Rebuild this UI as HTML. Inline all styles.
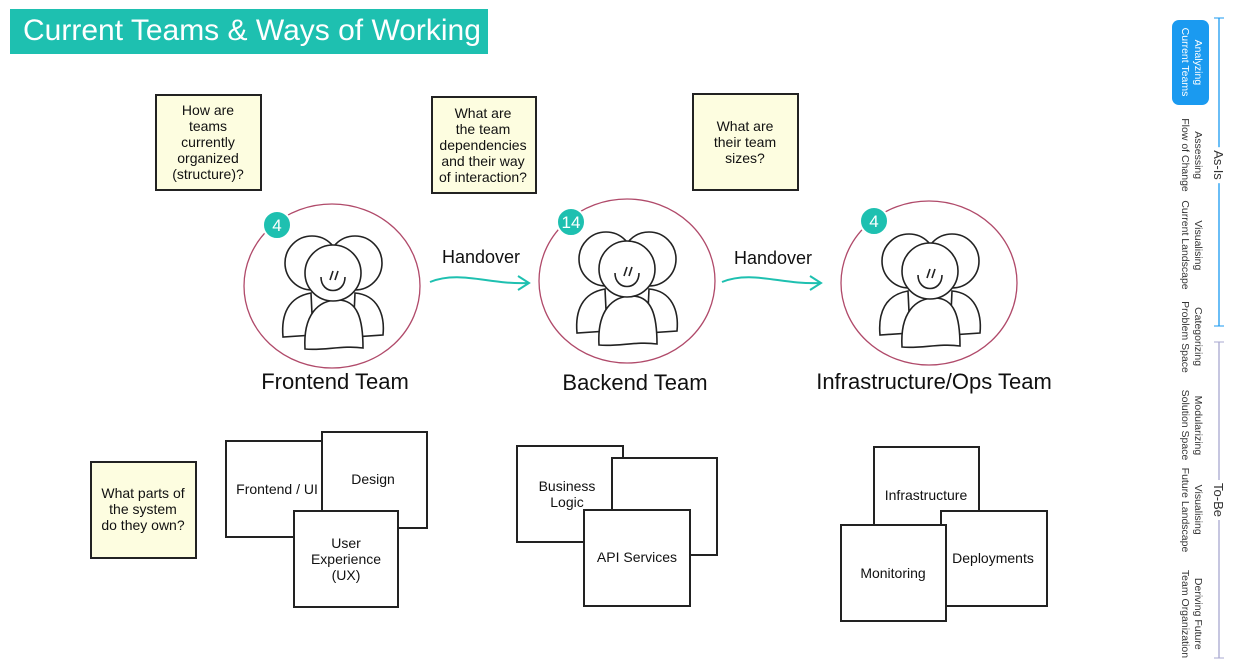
<!DOCTYPE html>
<html><head><meta charset="utf-8"><style>
body{margin:0;width:1235px;height:667px;background:#fff;overflow:hidden;position:relative;font-family:"Liberation Sans",sans-serif}
.t{position:absolute;left:10px;top:9px;width:478px;height:45px;background:#1ec0b0;color:#fff;font-size:30px;line-height:43px;padding-left:13px;box-sizing:border-box;font-family:"Liberation Sans",sans-serif;white-space:nowrap;overflow:hidden}
.v{position:absolute;writing-mode:vertical-rl;font-size:10.5px;line-height:13px;text-align:center;color:#333;transform:translateY(-50%);white-space:nowrap}
</style></head><body>
<div class="t">Current Teams &amp; Ways of Working</div>
<svg width="1235" height="667" style="position:absolute;left:0;top:0" font-family="Liberation Sans, sans-serif">
<defs>
<g id="ppl" fill="#fff" stroke="#222" stroke-width="1.6">
<path d="M-50,52 C-52,30 -45,12 -22,8 L-20,50 Z"/>
<path d="M50,50 C52,30 45,10 22,8 L20,52 Z"/>
<circle cx="-21" cy="-22" r="27"/>
<circle cx="22" cy="-22" r="27"/>
<path d="M-28,64 C-30,30 -15,15 5,15 C25,15 30,35 30,63 C10,60 -10,66 -28,64 Z"/>
<circle cx="0" cy="-12" r="28"/>
<path d="M-12,-8 C-12,10 12,10 12,-8" fill="none"/>
<path d="M-3,-5 L0,-14 M2,-5 L5,-14" fill="none"/>
</g>
</defs>
<g fill="#fdfde0" stroke="#222" stroke-width="2">
<rect x="156" y="95" width="105" height="95"/>
<rect x="432" y="97" width="104" height="96"/>
<rect x="693" y="94" width="105" height="96"/>
<rect x="91" y="462" width="105" height="96"/>
</g>
<g font-size="14" fill="#111" text-anchor="middle">
<text x="208" y="115">How are</text><text x="208" y="131">teams</text><text x="208" y="147">currently</text><text x="208" y="163">organized</text><text x="208" y="179">(structure)?</text>
<text x="483" y="118">What are</text><text x="483" y="134">the team</text><text x="483" y="150">dependencies</text><text x="483" y="166">and their way</text><text x="483" y="182">of interaction?</text>
<text x="745" y="131">What are</text><text x="745" y="147">their team</text><text x="745" y="163">sizes?</text>
<text x="143" y="498">What parts of</text><text x="143" y="514">the system</text><text x="143" y="530">do they own?</text>
</g>
<g fill="#fff" stroke="#222" stroke-width="2">
<rect x="226" y="441" width="106" height="96"/>
<rect x="322" y="432" width="105" height="96"/>
<rect x="294" y="511" width="104" height="96"/>
<rect x="517" y="446" width="106" height="96"/>
<rect x="612" y="458" width="105" height="97"/>
<rect x="584" y="510" width="106" height="96"/>
<rect x="874" y="447" width="105" height="97"/>
<rect x="941" y="511" width="106" height="95"/>
<rect x="841" y="525" width="105" height="96"/>
</g>
<g font-size="14" fill="#111" text-anchor="middle">
<text x="277" y="494">Frontend / UI</text>
<text x="373" y="484">Design</text>
<text x="346" y="548">User</text><text x="346" y="564">Experience</text><text x="346" y="580">(UX)</text>
<text x="567" y="491">Business</text><text x="567" y="507">Logic</text>
<text x="637" y="562">API Services</text>
<text x="926" y="500">Infrastructure</text>
<text x="993" y="563">Deployments</text>
<text x="893" y="578">Monitoring</text>
</g>
<g fill="none" stroke="#b04a6a" stroke-width="1.3">
<ellipse cx="332" cy="286" rx="88" ry="82"/>
<ellipse cx="627" cy="281" rx="88" ry="82"/>
<ellipse cx="929" cy="283" rx="88" ry="82"/>
</g>
<use href="#ppl" x="333" y="285"/>
<use href="#ppl" x="627" y="281"/>
<use href="#ppl" x="930" y="283"/>
<g fill="#1ec0b0" stroke="#fff" stroke-width="2"><circle cx="277" cy="225" r="14"/><circle cx="571" cy="222" r="14"/><circle cx="874" cy="221" r="14"/></g>
<g fill="#fff" font-size="17" text-anchor="middle"><text x="277" y="231">4</text><text x="571" y="228">14</text><text x="874" y="227">4</text></g>
<g font-size="22" fill="#111" text-anchor="middle">
<text x="335" y="389">Frontend Team</text><text x="635" y="390">Backend Team</text><text x="934" y="389">Infrastructure/Ops Team</text>
</g>
<g font-size="18" fill="#111" text-anchor="middle"><text x="481" y="263">Handover</text><text x="773" y="264">Handover</text></g>
<g fill="none" stroke="#1ec0b0" stroke-width="2">
<path d="M430,282 C460,270 490,285 528,283 M518,276 L529,283 L518,290"/>
<path d="M722,282 C752,270 782,285 820,283 M810,276 L821,283 L810,290"/>
</g>
<line x1="1219" y1="18" x2="1219" y2="326" stroke="#1a9af0" stroke-width="1.3"/>
<line x1="1214" y1="18" x2="1224" y2="18" stroke="#1a9af0"/><line x1="1214" y1="326" x2="1224" y2="326" stroke="#1a9af0"/>
<line x1="1219" y1="342" x2="1219" y2="658" stroke="#a8a8d0" stroke-width="1.3"/>
<line x1="1214" y1="342" x2="1224" y2="342" stroke="#a8a8d0"/><line x1="1214" y1="658" x2="1224" y2="658" stroke="#a8a8d0"/>
<rect x="1172" y="20" width="37" height="85" rx="7" fill="#1a9af0"/>
</svg>
<div class="v" style="left:1212px;top:165px;font-size:13px;background:#fff;padding:3px 0">As-Is</div>
<div class="v" style="left:1212px;top:500px;font-size:13px;background:#fff;padding:3px 0">To-Be</div>
<div class="v" style="left:1178px;top:62px;color:#fff">Analyzing<br>Current Teams</div>
<div class="v" style="left:1178px;top:155px">Assessing<br>Flow of Change</div>
<div class="v" style="left:1178px;top:245px">Visualising<br>Current Landscape</div>
<div class="v" style="left:1178px;top:337px">Categorizing<br>Problem Space</div>
<div class="v" style="left:1178px;top:425px">Modularizing<br>Solution Space</div>
<div class="v" style="left:1178px;top:510px">Visualising<br>Future Landscape</div>
<div class="v" style="left:1178px;top:614px">Deriving Future<br>Team Organization</div>
</body></html>
